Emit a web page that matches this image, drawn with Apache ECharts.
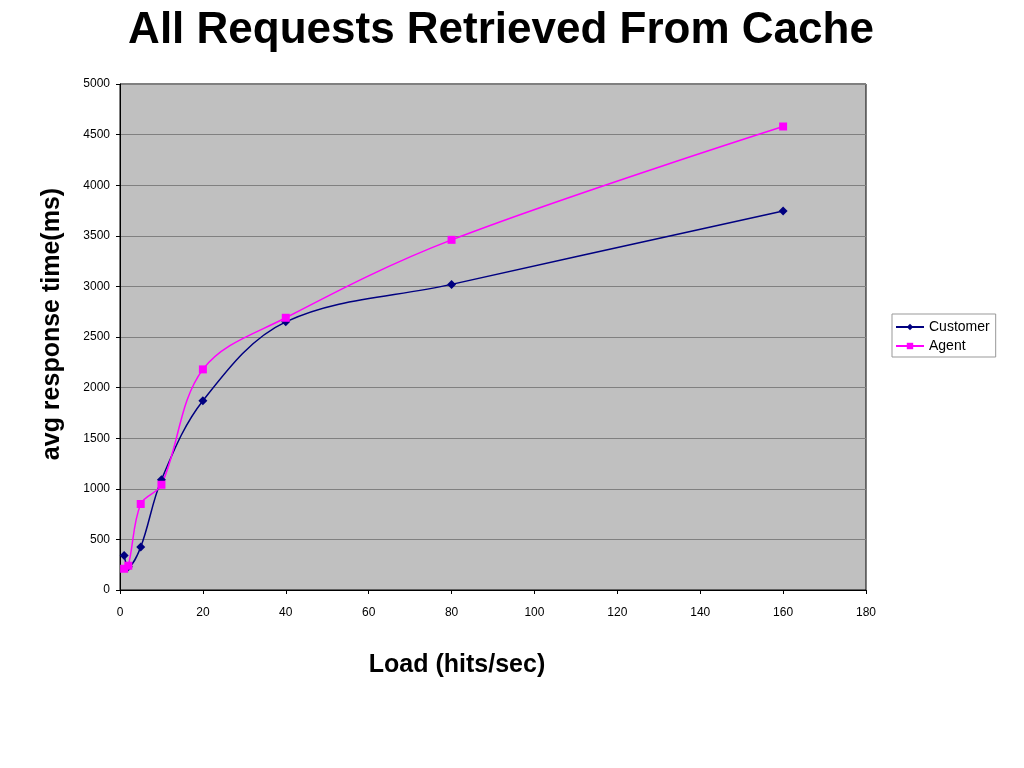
<!DOCTYPE html>
<html><head><meta charset="utf-8">
<script src="https://cdn.jsdelivr.net/npm/echarts@6/dist/echarts.min.js"></script>
<style>html,body{margin:0;padding:0;background:#fff}#c{width:1024px;height:768px}</style>
</head><body><div id="c"></div>
<script>
const loads = [1, 2, 5, 10, 20, 40, 80, 160];
const customer = [340, 230, 425, 1090, 1870, 2650, 3020, 3745];
const agent = [210, 240, 850, 1040, 2180, 2690, 3460, 4580];
const seriesNames = ['Customer', 'Agent'];
const xTitle = 'Load (hits/sec)';
const yTitle = 'avg response time(ms)';

const chart = echarts.init(document.getElementById('c'), null, {renderer: 'canvas'});
const F = '"Liberation Sans", Arial, sans-serif';
chart.setOption({
  animation: false,
  backgroundColor: '#fff',
  title: {
    text: 'All Requests Retrieved From Cache',
    left: 496, top: 4, textAlign: 'center',
    textStyle: {fontFamily: F, fontSize: 44, fontWeight: 'bold', color: '#000'}
  },
  legend: {
    orient: 'vertical',
    left: 892, top: 314,
    data: seriesNames,
    backgroundColor: '#fff',
    borderColor: '#999', borderWidth: 1, borderRadius: 0,
    padding: [6, 6, 4, 3],
    itemGap: 5,
    itemWidth: 28, itemHeight: 8,
    textStyle: {fontFamily: F, fontSize: 14, color: '#000'}
  },
  grid: {
    left: 120, right: 158, top: 84, bottom: 178,
    show: true, backgroundColor: '#C0C0C0', borderColor: '#000', borderWidth: 1
  },
  xAxis: {
    type: 'value', min: 0, max: 180, interval: 20,
    axisLine: {show: true, onZero: false, lineStyle: {color: '#000'}},
    axisTick: {show: true, length: 4, lineStyle: {color: '#000'}},
    axisLabel: {fontFamily: F, fontSize: 12, color: '#000', margin: 17},
    splitLine: {show: false}
  },
  yAxis: {
    type: 'value', min: 0, max: 5000, interval: 500,
    axisLine: {show: true, lineStyle: {color: '#000'}},
    axisTick: {show: true, length: 4, lineStyle: {color: '#000'}},
    axisLabel: {fontFamily: F, fontSize: 12, color: '#000', margin: 10, formatter: v => String(v)},
    splitLine: {show: true, lineStyle: {color: '#808080', width: 1}}
  },
  series: [
    {
      name: seriesNames[0], type: 'line', smooth: 0.35,
      data: loads.map((x, i) => [x, customer[i]]),
      symbol: 'diamond', symbolSize: 9,
      lineStyle: {color: '#000080', width: 1.5},
      itemStyle: {color: '#000080'}
    },
    {
      name: seriesNames[1], type: 'line', smooth: 0.35,
      data: loads.map((x, i) => [x, agent[i]]),
      symbol: 'rect', symbolSize: 8,
      lineStyle: {color: '#FF00FF', width: 1.5},
      itemStyle: {color: '#FF00FF'}
    }
  ],
  graphic: [
    {
      type: 'text', x: 457, y: 665, silent: true,
      style: {text: xTitle, font: 'bold 25px ' + F, fill: '#000', align: 'center', verticalAlign: 'middle'}
    },
    {
      type: 'text', x: 52, y: 324, rotation: Math.PI / 2, silent: true,
      style: {text: yTitle, font: 'bold 25px ' + F, fill: '#000', align: 'center', verticalAlign: 'middle'}
    }
  ]
});
</script></body></html>
